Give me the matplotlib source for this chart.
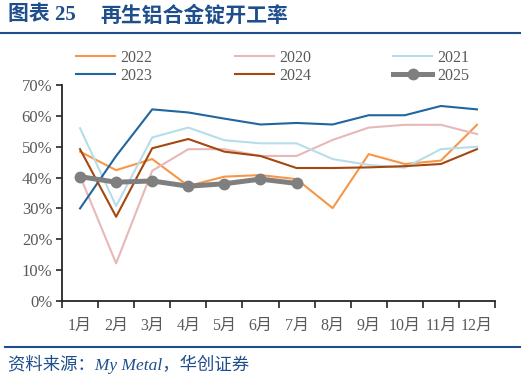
import matplotlib
matplotlib.use("Agg")
import matplotlib.pyplot as plt
import numpy as np
from matplotlib.lines import Line2D

months = ["1月", "2月", "3月", "4月", "5月", "6月", "7月", "8月", "9月", "10月", "11月", "12月"]
y2022 = [48.4, 42.4, 46.0, 37.3, 40.3, 40.8, 39.5, 30.1, 47.6, 44.4, 45.5, 57.1]
y2020 = [40.5, 12.2, 42.2, 49.2, 49.2, 47.0, 47.0, 52.2, 56.2, 57.1, 57.1, 54.1]
y2021 = [56.0, 30.8, 53.0, 56.2, 52.1, 51.1, 51.1, 46.0, 44.1, 43.2, 49.2, 50.0]
y2023 = [30.0, 47.0, 62.1, 61.1, 59.1, 57.2, 57.7, 57.2, 60.2, 60.2, 63.2, 62.1]
y2024 = [49.2, 27.3, 49.5, 52.5, 48.4, 47.0, 43.1, 43.1, 43.3, 43.7, 44.4, 49.2]
y2025 = [40.3, 38.5, 38.9, 37.2, 38.0, 39.5, 38.1]
yticks = [0, 10, 20, 30, 40, 50, 60, 70]

navy = "#1F4E8C"
gray_txt = "#595959"
serif = ["Liberation Serif", "Noto Sans CJK SC"]

fig = plt.figure(figsize=(5.24, 3.8), dpi=100)
ax = fig.add_axes([62/524, 79/380, 433/524, 216/380])

x = np.arange(len(months))
lw = 1.5
series = [
    ("2022", y2022, "#F79646"),
    ("2020", y2020, "#E6B9B8"),
    ("2021", y2021, "#B7DEE8"),
    ("2023", y2023, "#2166A0"),
    ("2024", y2024, "#A5470E"),
]
handles = {}
for name, vals, col in series:
    h, = ax.plot(x, vals, color=col, lw=lw, label=name, zorder=2)
    handles[name] = h
h25, = ax.plot(np.arange(len(y2025)), y2025, color="#7F7F7F", lw=3.6, marker="o",
               markersize=7.5, label="2025", zorder=3)
handles["2025"] = h25

ax.set_xlim(-0.5, 11.5)
ax.set_ylim(0, 70)
ax.set_yticks(yticks)
ax.set_yticklabels([f"{v}%" for v in yticks], family=serif, fontsize=12, color=gray_txt)
ax.set_xticks(np.arange(-0.5, 12, 1))
ax.set_xticklabels([])
ax.set_xticks(x, minor=True)
ax.set_xticklabels(months, minor=True, family=serif, fontsize=11.5, color=gray_txt)
ax.tick_params(axis="x", which="major", direction="out", length=5, width=1.2, color="#262626")
ax.tick_params(axis="x", which="minor", length=0, pad=12)
ax.tick_params(axis="y", direction="out", length=4, width=1.2, color="#262626", pad=3)
for s in ["top", "right"]:
    ax.spines[s].set_visible(False)
for s in ["left", "bottom"]:
    ax.spines[s].set_color("#262626")
    ax.spines[s].set_linewidth(1.3)

columns = [["2022", "2023"], ["2020", "2024"], ["2021", "2025"]]
col_x = [76, 235, 393]
for names, cx in zip(columns, col_x):
    leg = fig.legend([handles[k] for k in names], names, ncol=1, loc="upper left",
                     bbox_to_anchor=(cx/524, 1 - 50/380), frameon=False,
                     prop={"family": serif, "size": 11.5}, labelcolor=gray_txt,
                     handlelength=2.45, handletextpad=0.3,
                     labelspacing=0.1, borderaxespad=0, borderpad=0)

fig.text(8/524, 1 - 15/380, "图表 25", family=["Liberation Serif", "Noto Sans CJK SC"],
         fontweight="bold", fontsize=15, color=navy, va="center")
fig.text(100/524, 1 - 15/380, "再生铝合金锭开工率", family=["Noto Sans CJK SC"],
         fontweight="bold", fontsize=15, color=navy, va="center")
fig.add_artist(Line2D([0, 520/524], [1 - 33/380, 1 - 33/380], color=navy, lw=1.5))
fig.add_artist(Line2D([5/524, 520/524], [1 - 347/380, 1 - 347/380], color=navy, lw=1.5))
fig.text(8/524, 1 - 364/380, "资料来源：My Metal，华创证券",
         family=["Liberation Serif", "Noto Sans CJK SC"], style="italic",
         fontsize=12.5, color=navy, va="center")

fig.savefig("out.png", dpi=100)
